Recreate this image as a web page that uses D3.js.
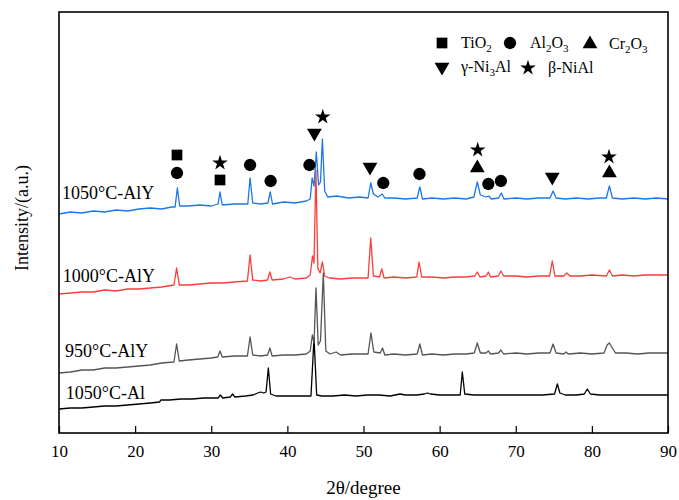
<html>
    <head>
        <script src="https://cdn.jsdelivr.net/npm/d3@7"></script>
        <style>
            body { margin: 0; background: #fff; }
            svg text { font-family: "Liberation Serif", "Times New Roman", serif !important; fill: #000; }
        </style>
    </head>
    <body>

        <div id="chart"></div>

        <script type="text/javascript">

            // ======================   data   ======================
            // XRD patterns, [2theta, intensity (a.u., stacked offset already included)]

            const s1050AlY = [
                [10,219],[11.5,221],[13,220],[14.5,222],[16,221],[17.5,223],[19,222],[20.5,224],[22,225],[23.5,224],
                [24.8,226],[25.25,226],[25.55,245],[25.85,227],[27,227],[28.5,228],[30,227],[30.9,229],[31.15,241],[31.45,228],
                [33,229],[34.8,229],[35.1,255],[35.45,230],[36.5,229],[37.45,230],[37.75,241],[38.05,229],[39.5,231],[41,230],
                [42.5,232],[43.0,234],[43.25,255],[43.5,247],[43.8,281],[44.1,248],[44.35,251],[44.6,294],[44.9,242],[45.3,236],
                [46.5,237],[48,235],[49.5,236],[50.6,235],[50.95,250],[51.3,239],[51.9,236],[52.45,239],[52.8,235],[54,235],
                [55.5,234],[57.05,235],[57.4,246],[57.75,234],[59,235],[60.5,234],[62,235],[63.5,234],[64.5,236],[64.95,251],
                [65.35,238],[66.1,236],[66.45,237],[66.8,234],[67.75,235],[68.1,240],[68.45,234],[70,235],[71.5,234],[73,235],
                [74.5,235],[74.9,242],[75.3,235],[76.5,234],[78,235],[79.5,234],[81,235],[81.9,235],[82.3,247],[82.7,235],
                [84,234],[85.5,235],[87,234],[88.5,235],[90,234]
            ]

            const s1000AlY = [
                [10,139],[11.5,140],[13,141],[14.5,141],[16,143],[17.5,142],[19,144],[20.5,144],[22,145],[23.5,146],
                [25.1,148],[25.45,165],[25.8,148],[27,148],[28.5,149],[30,150],[31.5,150],[33,151],[34.75,152],[35.1,178],
                [35.45,153],[36.5,152],[37.4,153],[37.7,161],[38,153],[39.5,154],[40.3,156],[41,154],[42.5,155],[43.0,158],
                [43.3,177],[43.5,170],[43.75,263],[44.0,165],[44.3,160],[44.6,171],[44.9,157],[45.5,155],[47,154],[48.5,155],
                [50.6,155],[50.95,195],[51.3,157],[52.1,156],[52.4,164],[52.7,155],[54,156],[55.5,155],[57,156],[57.3,171],
                [57.65,156],[59,156],[60.5,155],[62,156],[63.5,156],[64.6,157],[64.95,161],[65.3,156],[66.1,157],[66.4,161],
                [66.7,156],[67.7,157],[68.05,162],[68.4,157],[70,157],[71.5,156],[73,157],[74.45,157],[74.8,172],[75.15,157],
                [76.3,157],[76.7,160],[77.1,157],[78.5,157],[80,158],[81.9,157],[82.3,163],[82.7,157],[84,158],[85.5,157],
                [87,158],[88.5,158],[90,158]
            ]

            const s950AlY = [
                [10,60],[11.5,61],[13,63],[14.5,63],[16,65],[17.5,65],[19,66],[20.5,67],[22,68],[23.5,70],
                [25.1,71],[25.45,89],[25.8,72],[27,73],[28.5,74],[30,75],[30.85,76],[31.15,82],[31.45,76],[33,77],
                [34.75,77],[35.1,96],[35.45,78],[36.5,77],[37.4,78],[37.7,85],[38,77],[39.5,78],[41,78],[42.5,79],
                [43.0,82],[43.28,98],[43.5,90],[43.76,145],[44.05,88],[44.35,92],[44.72,160],[45.05,82],[45.6,79],[46.4,81],
                [47,78],[48.5,79],[50.6,79],[50.98,100],[51.35,81],[52.2,80],[52.5,85],[52.8,78],[54,79],[55.5,78],
                [57.05,79],[57.4,89],[57.75,78],[59,79],[60.5,78],[62,79],[63.5,79],[64.55,80],[64.95,90],[65.35,80],
                [66.1,80],[66.4,82],[66.7,79],[67.75,80],[68.05,83],[68.4,79],[70,80],[71.5,79],[73,80],[74.5,80],
                [74.9,89],[75.3,80],[76.3,79],[76.6,81],[76.9,79],[78.5,80],[80,79],[81.6,80],[82.0,88],[82.3,90],
                [82.7,85],[83.1,80],[84.5,80],[86,79],[87.5,80],[90,80]
            ]

            const s1050Al = [
                [10,24],[11.5,25],[13,25],[14.5,26],[16,27],[17.5,27],[19,28],[20.5,29],[22,30],[23.2,31],
                [23.4,33],[24.5,33],[26,34],[27.5,34],[29,35],[30.9,35],[31.2,38],[31.5,35],[32.5,36],[32.8,39],
                [33.1,36],[34.5,37],[35.5,38],[36.1,40],[36.5,41],[36.9,40],[37.2,41],[37.5,65],[37.8,39],[38.5,37],
                [40,37],[41.5,37],[43.1,37],[43.5,95],[43.85,38],[44.5,37],[46,37],[47.5,38],[49,37],[50.5,38],
                [52,38],[53.5,37],[54.8,39],[55.5,38],[57,38],[58,39],[58.4,40],[58.8,39],[60,38],[61.5,38],
                [62.7,38],[62.98,61],[63.3,39],[64.5,38],[66,38],[67.5,38],[69,38],[70.5,38],[72,38],[73.5,38],
                [75.1,39],[75.46,49],[75.8,40],[76.5,38],[78,38],[79.0,39],[79.4,44],[79.8,39],[81,38],[82.5,38],
                [84,38],[85.5,38],[87,38],[88.5,38],[90,38]
            ]

            const seriesNames = ["1050°C-Al", "950°C-AlY", "1000°C-AlY", "1050°C-AlY"]

            // phase markers above the 1050°C-AlY pattern: [2theta, height]
            const tio2Marks  = [[25.5,278],[31.15,253]]
            const al2o3Marks = [[25.5,260],[35.1,268],[37.8,252],[42.9,268],[52.6,250],[57.35,259],[66.4,249],[68.05,252]]
            const cr2o3Marks = [[64.95,265],[82.3,260]]
            const ni3alMarks = [[43.55,300],[50.85,266],[74.8,256]]
            const nialMarks  = [[44.65,316],[31.15,270],[65.0,283],[82.25,276]]

            const xTicks = [10, 20, 30, 40, 50, 60, 70, 80, 90]

            // ======================   chart   ======================

            const W = 679, H = 500
            const mLeft = 59, mRight = 668, mTop = 12, mBottom = 433
            const serif = "'Liberation Serif', 'Times New Roman', serif"

            const svg = d3.select("#chart")
                          .append("svg")
                          .attr("width", W)
                          .attr("height", H)
                          .style("font-family", serif)

            const x = d3.scaleLinear().domain([10, 90]).range([mLeft, mRight])
            const y = d3.scaleLinear().domain([0, mBottom - mTop]).range([mBottom, mTop])

            const line = d3.line()
                           .x(d => x(d[0]))
                           .y(d => y(d[1]))

            // colours in the same order as seriesNames
            const patterns = [s1050Al, s950AlY, s1000AlY, s1050AlY]
            const colors = ["#000000", "#555555", "#ff3b3b", "#1c78e6"]

            svg.selectAll("path.pattern")
               .data(patterns)
               .enter()
               .append("path")
               .attr("class", "pattern")
               .attr("d", line)
               .attr("fill", "none")
               .attr("stroke", (d, i) => colors[i])
               .attr("stroke-width", 1.3)
               .attr("stroke-linejoin", "round")

            // series names sit at the left, just above each pattern
            const labelPos = [[10.9, 34], [10.8, 76], [10.5, 151], [10.4, 234]]
            svg.selectAll("text.series")
               .data(seriesNames)
               .enter()
               .append("text")
               .attr("class", "series")
               .attr("x", (d, i) => x(labelPos[i][0]))
               .attr("y", (d, i) => y(labelPos[i][1]))
               .attr("font-size", 18)
               .text(d => d)

            // phase markers
            const sym = {
                square: d3.symbol().type(d3.symbolSquare).size(115),
                circle: d3.symbol().type(d3.symbolCircle).size(120),
                tri:    d3.symbol().type(d3.symbolTriangle).size(95),
                star:   d3.symbol().type(d3.symbolStar).size(75)
            }

            const markerSets = [
                {data: tio2Marks,  path: sym.square, rot: 0},
                {data: al2o3Marks, path: sym.circle, rot: 0},
                {data: cr2o3Marks, path: sym.tri,    rot: 0},
                {data: ni3alMarks, path: sym.tri,    rot: 180},
                {data: nialMarks,  path: sym.star,   rot: 0}
            ]

            markerSets.forEach(set => {
                svg.append("g")
                   .selectAll("path")
                   .data(set.data)
                   .enter()
                   .append("path")
                   .attr("d", set.path())
                   .attr("transform", d => `translate(${x(d[0])},${y(d[1])}) rotate(${set.rot})`)
                   .attr("fill", "#000")
            })

            // frame + axis
            svg.append("rect")
               .attr("x", mLeft)
               .attr("y", mTop)
               .attr("width", mRight - mLeft)
               .attr("height", mBottom - mTop)
               .attr("fill", "none")
               .attr("stroke", "#000")
               .attr("stroke-width", 1.6)

            const xAxis = d3.axisBottom(x)
                            .tickValues(xTicks)
                            .tickSizeInner(-7)
                            .tickSizeOuter(0)
                            .tickPadding(12)
                            .tickFormat(d3.format("d"))

            const gx = svg.append("g")
                          .attr("transform", `translate(0, ${mBottom})`)
                          .call(xAxis)
                          .attr("font-family", null)
                          .attr("font-size", null)
            gx.select(".domain").remove()
            gx.selectAll("line").attr("stroke", "#000").attr("stroke-width", 1.2)
            gx.selectAll("text")
              .style("font-family", serif)
              .style("font-size", "17px")
              .attr("fill", "#000")

            svg.append("text")
               .attr("x", (mLeft + mRight) / 2)
               .attr("y", 494)
               .attr("text-anchor", "middle")
               .attr("font-size", 19)
               .text("2θ/degree")

            svg.append("text")
               .attr("transform", "translate(28, 218) rotate(-90)")
               .attr("text-anchor", "middle")
               .attr("font-size", 18)
               .text("Intensity/(a.u.)")

            // legend (two rows, chemical formulas with subscripts)
            const legendItems = [
                {path: sym.square, rot: 0,   cx: 442, cy: 43, tx: 461, parts: [["Ti"], ["O"], ["2", 1]]},
                {path: sym.circle, rot: 0,   cx: 510, cy: 43, tx: 530, parts: [["Al"], ["2", 1], ["O"], ["3", 1]]},
                {path: sym.tri,    rot: 0,   cx: 590, cy: 44, tx: 609, parts: [["Cr"], ["2", 1], ["O"], ["3", 1]]},
                {path: sym.tri,    rot: 180, cx: 442, cy: 67, tx: 461, parts: [["γ-Ni"], ["3", 1], ["Al"]]},
                {path: sym.star,   rot: 0,   cx: 528, cy: 68, tx: 548, parts: [["β-NiAl"]]}
            ]

            const legend = svg.append("g")
            legendItems.forEach(item => {
                legend.append("path")
                      .attr("d", item.path())
                      .attr("transform", `translate(${item.cx},${item.cy}) rotate(${item.rot})`)
                      .attr("fill", "#000")

                const t = legend.append("text")
                                .attr("x", item.tx)
                                .attr("y", item.cy + 5)
                                .attr("font-size", 16)
                let down = false
                item.parts.forEach(p => {
                    const sub = p[1] === 1
                    const ts = t.append("tspan").text(p[0])
                    if (sub) {
                        ts.attr("font-size", 11).attr("dy", down ? 0 : 4)
                        down = true
                    } else {
                        if (down) ts.attr("dy", -4)
                        down = false
                    }
                })
            })

        </script>

    </body>

</html>
